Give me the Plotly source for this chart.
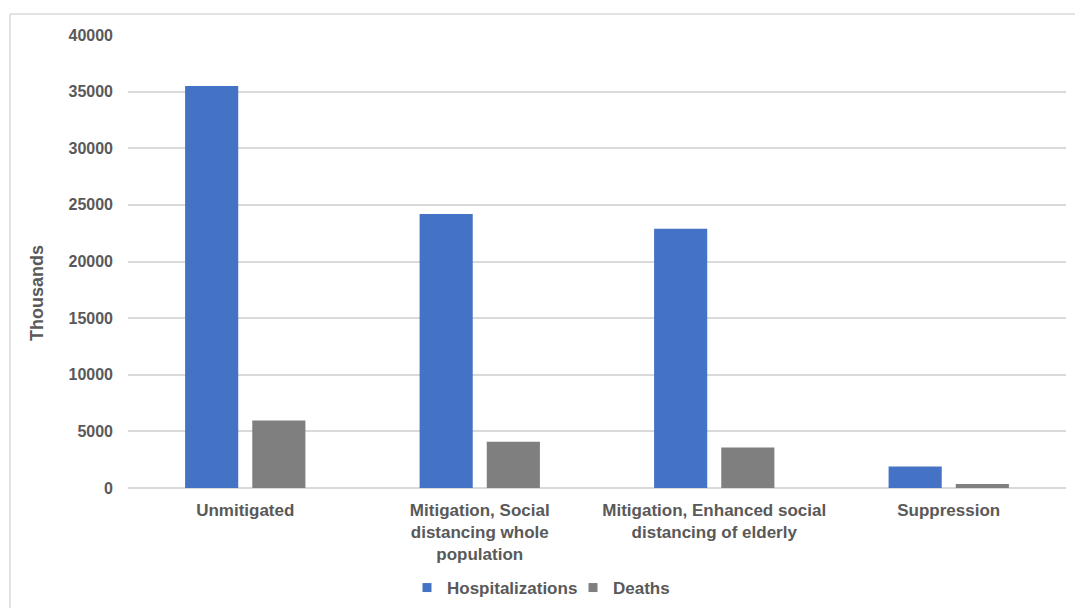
import plotly.graph_objects as go

categories = ["Unmitigated",
              "Mitigation, Social<br>distancing whole<br>population",
              "Mitigation, Enhanced social<br>distancing of elderly",
              "Suppression"]
hospitalizations = [35500, 24200, 22900, 1900]
deaths = [5950, 4080, 3580, 350]
y_ticks = [0, 5000, 10000, 15000, 20000, 25000, 30000, 35000, 40000]
series_names = ["Hospitalizations", "Deaths"]
series_colors = ["#4472C4", "#7F7F7F"]

FONT = "Liberation Sans"
TXT = "#595959"

fig = go.Figure()
for name, vals, col in zip(series_names, [hospitalizations, deaths], series_colors):
    fig.add_trace(go.Bar(x=categories, y=vals, name=name, marker_color=col,
                         marker_line_width=0, showlegend=False))
# legend entries with small square markers
for name, col in zip(series_names, series_colors):
    fig.add_trace(go.Scatter(x=[None], y=[None], mode="markers", name=name,
                             marker=dict(symbol="square", size=9, color=col)))

fig.update_layout(
    width=1075, height=608,
    margin=dict(l=128, r=9, t=35, b=120, autoexpand=False),
    paper_bgcolor="white", plot_bgcolor="white",
    barmode="group", bargap=0.427, bargroupgap=0.209,
    font=dict(family=FONT, size=17, color=TXT),
    showlegend=True,
    legend=dict(orientation="h", x=(407 - 128) / 938, xanchor="left",
                y=(488 - 588) / 453, yanchor="middle",
                entrywidth=121, entrywidthmode="pixels",
                font=dict(family=FONT, size=17, color=TXT, weight="bold"),
                bgcolor="rgba(0,0,0,0)"),
    xaxis=dict(showgrid=False, showline=False, zeroline=False,
               tickfont=dict(family=FONT, size=17, color=TXT, weight="bold"),
               ticklabelstandoff=10),
    yaxis=dict(range=[0, 40000], tickvals=y_ticks,
               ticktext=[str(v) for v in y_ticks],
               showgrid=True, gridcolor="#D9D9D9", gridwidth=1.5,
               zeroline=True, zerolinecolor="#D9D9D9", zerolinewidth=1.5,
               showline=False,
               tickfont=dict(family=FONT, size=16, color=TXT, weight="bold"),
               ticklabelstandoff=14),
    annotations=[dict(text="Thousands", textangle=-90, x=(37 - 128) / 938,
                      y=(488 - 293) / 453, xref="paper", yref="paper",
                      showarrow=False, xanchor="center", yanchor="middle",
                      font=dict(family=FONT, size=18, color=TXT, weight="bold"))],
    shapes=[
        dict(type="line", xref="paper", yref="paper",
             x0=(10 - 128) / 938, x1=1.02, y0=(488 - 14) / 453, y1=(488 - 14) / 453,
             line=dict(color="#E3E3E3", width=2)),
        dict(type="line", xref="paper", yref="paper",
             x0=(10 - 128) / 938, x1=(10 - 128) / 938, y0=(488 - 14) / 453, y1=-0.35,
             line=dict(color="#E3E3E3", width=2)),
    ],
)

fig.write_html("out.html")
